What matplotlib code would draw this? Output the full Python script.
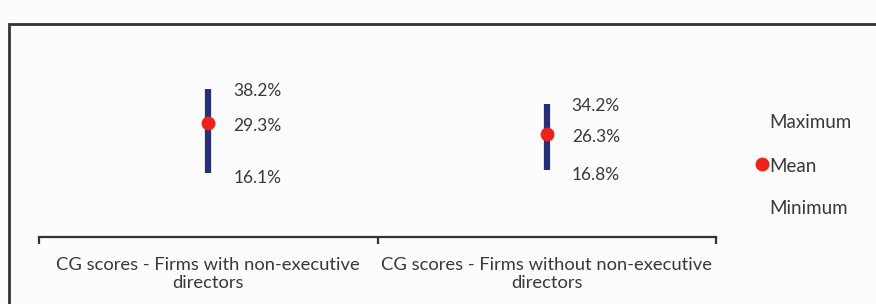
import matplotlib.pyplot as plt
from matplotlib.patches import Rectangle

categories = ['CG scores - Firms with non-executive\ndirectors',
              'CG scores - Firms without non-executive\ndirectors']
maximum = [38.2, 34.2]
mean = [29.3, 26.3]
minimum = [16.1, 16.8]

plt.rcParams['font.family'] = ['Lato', 'DejaVu Sans']
txt_color = '#383838'
bar_color = '#262f78'
dot_color = '#f0221c'
fs = 12.5

fig = plt.figure(figsize=(8.76, 3.04), dpi=100)
fig.patch.set_facecolor('#fcfcfc')
# outer chart frame (only left/top visible in the crop)
fig.patches.append(Rectangle((9 / 876, -0.1), 1.2, (304 - 24) / 304 + 0.1, transform=fig.transFigure,
                             fill=False, edgecolor='#333333', linewidth=2))

ax = fig.add_axes([39 / 876, 0.2204, 677 / 876, 0.6326])
ax.set_facecolor('none')
ax.set_xlim(0, 2)
ax.set_ylim(-1, 50)

xs = [i + 0.5 for i in range(len(categories))]
ax.vlines(xs, minimum, maximum, color=bar_color, linewidth=4.5, zorder=2)
ax.plot(xs, mean, 'o', color=dot_color, markersize=9, zorder=3)

for x, hi, mu, lo in zip(xs, maximum, mean, minimum):
    ax.annotate(f'{hi:.1f}%', (x, hi), xytext=(25, -2), textcoords='offset pixels',
                va='center', ha='left', fontsize=fs, color=txt_color)
    ax.annotate(f'{mu:.1f}%', (x, mu), xytext=(25, -3), textcoords='offset pixels',
                va='center', ha='left', fontsize=fs, color=txt_color)
    ax.annotate(f'{lo:.1f}%', (x, lo), xytext=(25, -5), textcoords='offset pixels',
                va='center', ha='left', fontsize=fs, color=txt_color)

for s in ['top', 'right', 'left']:
    ax.spines[s].set_visible(False)
ax.spines['bottom'].set_color('#333333')
ax.spines['bottom'].set_linewidth(1.6)
ax.set_yticks([])
ax.set_xticks([0, 1, 2])
ax.set_xticklabels([])
ax.tick_params(axis='x', which='major', length=5, width=1.6, color='#333333', direction='out')
ax.set_xticks(xs, minor=True)
ax.set_xticklabels(categories, minor=True, fontsize=13.2, color=txt_color, linespacing=1.15)
ax.tick_params(axis='x', which='minor', length=0, pad=14.5)

# legend
fig.text(769 / 876, 1 - 122 / 304, 'Maximum', fontsize=13.5, color=txt_color, va='center', ha='left')
fig.text(769 / 876, 1 - 166 / 304, 'Mean', fontsize=13.5, color=txt_color, va='center', ha='left')
fig.text(769 / 876, 1 - 209 / 304, 'Minimum', fontsize=13.5, color=txt_color, va='center', ha='left')
fig.lines.append(plt.Line2D([762 / 876], [1 - 164 / 304], marker='o', color=dot_color, markersize=9,
                            transform=fig.transFigure, linestyle='none'))

fig.savefig('out.png', dpi=100, facecolor=fig.get_facecolor())
